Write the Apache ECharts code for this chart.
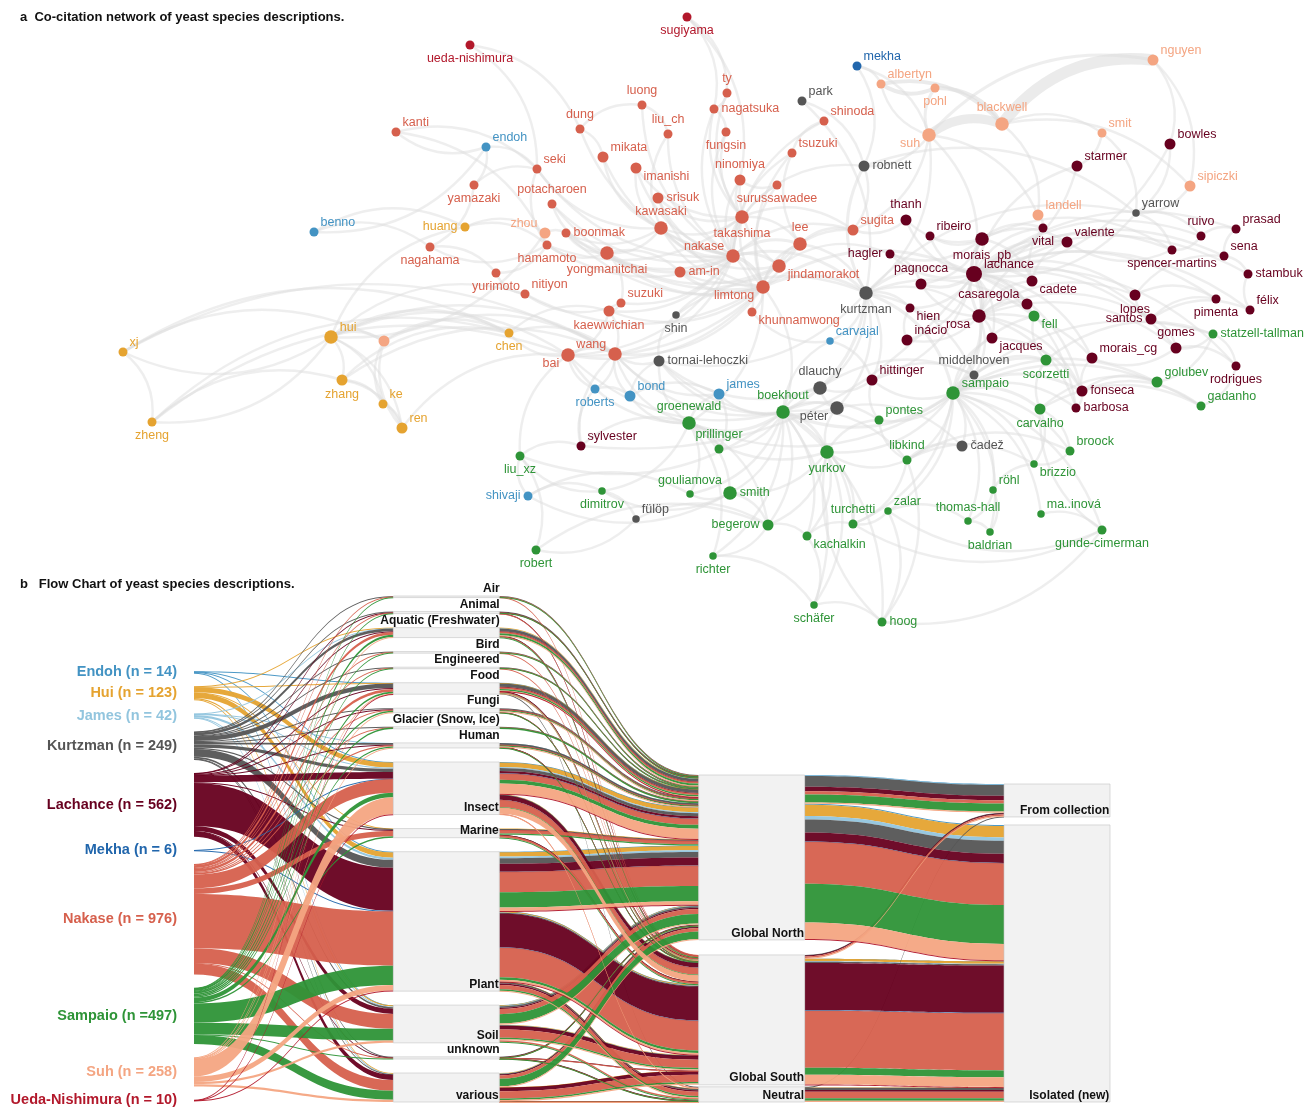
<!DOCTYPE html>
<html><head><meta charset="utf-8">
<script src="https://cdn.jsdelivr.net/npm/echarts@6/dist/echarts.min.js"></script>
<style>html,body{margin:0;padding:0;background:#fff}#c{width:1311px;height:1108px}</style>
</head><body><div id="c"></div>
<script>
const FONT = "'Liberation Sans', Arial, Helvetica, sans-serif";

// ================= NETWORK DATA =================
const groupColors = {N:'#d6604d', L:'#67001f', S:'#2e9437', H:'#e5a330', Su:'#f4a582', K:'#555555', E:'#4393c3', M:'#2166ac', U:'#b2182b'};
// [name, group, layoutX, layoutY, weight]
const netNodes = [
['ueda-nishimura','U',470,45,2],['sugiyama','U',687,17,2],['kanti','N',396,132,2],['endoh','E',486,147,2],
['benno','E',314,232,2],['luong','N',642,105,2],['dung','N',580,129,2],['ty','N',727,93,2],
['nagatsuka','N',714,109,2],['liu_ch','N',668,134,2],['fungsin','N',726,132,2],['mikata','N',603,157,3],
['seki','N',537,169,2],['imanishi','N',636,168,3],['ninomiya','N',740,180,3],['yamazaki','N',474,185,2],
['potacharoen','N',552,204,2],['srisuk','N',658,198,3],['surussawadee','N',777,185,2],['tsuzuki','N',792,153,2],
['shinoda','N',824,121,2],['park','K',802,101,2],['robnett','K',864,166,3],['mekha','M',857,66,2],
['albertyn','Su',881,84,2],['pohl','Su',935,88,2],['suh','Su',929,135,4],['blackwell','Su',1002,124,4],
['nguyen','Su',1153,60,3],['smit','Su',1102,133,2],['bowles','L',1170,144,3],['starmer','L',1077,166,3],
['sipiczki','Su',1190,186,3],['yarrow','K',1136,213,1],['landell','Su',1038,215,3],['vital','L',1043,228,2],
['valente','L',1067,242,3],['ruivo','L',1201,236,2],['prasad','L',1236,229,2],['spencer-martins','L',1172,250,2],
['sena','L',1224,256,2],['stambuk','L',1248,274,2],['thanh','L',906,220,3],['ribeiro','L',930,236,2],
['morais_pb','L',982,239,4],['hagler','L',890,254,2],['pagnocca','L',921,284,3],['lachance','L',974,274,5],
['cadete','L',1032,281,3],['sugita','N',853,230,3],['lee','N',800,244,4],['takashima','N',742,217,4],
['kawasaki','N',661,228,4],['nakase','N',733,256,4],['jindamorakot','N',779,266,4],['am-in','N',680,272,3],
['yongmanitchai','N',607,253,4],['boonmak','N',566,233,2],['hamamoto','N',547,245,2],['zhou','Su',545,233,3],
['huang','H',465,227,2],['nagahama','N',430,247,2],['yurimoto','N',496,273,2],['nitiyon','N',525,294,2],
['suzuki','N',621,303,2],['kaewwichian','N',609,311,3],['limtong','N',763,287,4],['khunnamwong','N',752,312,2],
['shin','K',676,315,1],['kurtzman','K',866,293,4],['hien','L',910,308,2],['casaregola','L',1027,304,3],
['fell','S',1034,316,3],['lopes','L',1135,295,3],['pimenta','L',1216,299,2],['félix','L',1250,310,2],
['santos','L',1151,319,3],['rosa','L',979,316,4],['inácio','L',907,340,3],['jacques','L',992,338,3],
['morais_cg','L',1092,358,3],['gomes','L',1176,348,3],['statzell-tallman','S',1213,334,2],['rodrigues','L',1236,366,2],
['carvajal','E',830,341,1],['middelhoven','K',974,375,2],['scorzetti','S',1046,360,3],['fonseca','L',1082,391,3],
['barbosa','L',1076,408,2],['golubev','S',1157,382,3],['gadanho','S',1201,406,2],['tornai-lehoczki','K',659,361,3],
['hittinger','L',872,380,3],['dlauchy','K',820,388,4],['sampaio','S',953,393,4],['péter','K',837,408,4],
['boekhout','S',783,412,4],['pontes','S',879,420,2],['carvalho','S',1040,409,3],['broock','S',1070,451,2],
['čadež','K',962,446,3],['libkind','S',907,460,2],['brizzio','S',1034,464,1],['yurkov','S',827,452,4],
['prillinger','S',719,449,2],['groenewald','S',689,423,4],['james','E',719,394,3],['bond','E',630,396,3],
['roberts','E',595,389,2],['bai','N',568,355,4],['wang','N',615,354,4],['chen','H',509,333,2],
['hui','H',331,337,4],['suh_b','Su',384,341,3],['xj','H',123,352,2],['zhang','H',342,380,3],
['ke','H',383,404,2],['ren','H',402,428,3],['zheng','H',152,422,2],['sylvester','L',581,446,2],
['liu_xz','S',520,456,2],['shivaji','E',528,496,2],['dimitrov','S',602,491,1],['fülöp','K',636,519,1],
['gouliamova','S',690,494,1],['smith','S',730,493,4],['robert','S',536,550,2],['begerow','S',768,525,3],
['kachalkin','S',807,536,2],['turchetti','S',853,524,2],['richter','S',713,556,1],['zalar','S',888,511,1],
['thomas-hall','S',968,521,1],['baldrian','S',990,532,1],['röhl','S',993,490,1],['ma..inová','S',1041,514,1],
['gunde-cimerman','S',1102,530,2],['schäfer','S',814,605,1],['hoog','S',882,622,2]
];
const hiddenLabels = ['suh_b'];
// label placement codes (style)
const labelPlace = {
'ueda-nishimura':'b','sugiyama':'b','kanti':'tr','endoh':'tr','benno':'tr','luong':'t','dung':'t','ty':'t','nagatsuka':'r',
'liu_ch':'t','fungsin':'b','mikata':'tr','seki':'tr','imanishi':'br','ninomiya':'t','yamazaki':'b','potacharoen':'t',
'srisuk':'r','surussawadee':'b','tsuzuki':'tr','shinoda':'tr','park':'tr','robnett':'r','mekha':'tr','albertyn':'tr',
'pohl':'b','suh':'bl','blackwell':'t','nguyen':'tr','smit':'tr','bowles':'tr','starmer':'tr','sipiczki':'tr','yarrow':'tr',
'landell':'tr','vital':'b','valente':'tr','ruivo':'t','prasad':'tr','spencer-martins':'b','sena':'tr','stambuk':'r',
'thanh':'t','ribeiro':'tr','morais_pb':'b','hagler':'l','pagnocca':'t','lachance':'tr','cadete':'br','sugita':'tr',
'lee':'t','takashima':'b','kawasaki':'t','nakase':'tl','jindamorakot':'br','am-in':'r','yongmanitchai':'b','boonmak':'r',
'hamamoto':'b','zhou':'tl','huang':'l','nagahama':'b','yurimoto':'b','nitiyon':'tr','suzuki':'tr','kaewwichian':'b',
'limtong':'bl','khunnamwong':'br','shin':'b','kurtzman':'b','hien':'br','casaregola':'tl','fell':'br','lopes':'b',
'pimenta':'b','félix':'tr','santos':'l','rosa':'bl','inácio':'tr','jacques':'br','morais_cg':'tr','gomes':'t',
'statzell-tallman':'r','rodrigues':'b','carvajal':'tr','middelhoven':'t','scorzetti':'b','fonseca':'r','barbosa':'r',
'golubev':'tr','gadanho':'tr','tornai-lehoczki':'r','hittinger':'tr','dlauchy':'t','sampaio':'tr','péter':'bl',
'boekhout':'t','pontes':'tr','carvalho':'b','broock':'tr','čadež':'r','libkind':'t','brizzio':'br','yurkov':'b',
'prillinger':'t','groenewald':'t','james':'tr','bond':'tr','roberts':'b','bai':'bl','wang':'tl','chen':'b','hui':'tr',
'xj':'tr','zhang':'b','ke':'tr','ren':'tr','zheng':'b','sylvester':'tr','liu_xz':'b','shivaji':'l','dimitrov':'b',
'fülöp':'tr','gouliamova':'t','smith':'r','robert':'b','begerow':'l','kachalkin':'br','turchetti':'t','richter':'b',
'zalar':'tr','thomas-hall':'t','baldrian':'b','röhl':'tr','ma..inová':'tr','gunde-cimerman':'b','schäfer':'b','hoog':'r'
};
// co-citation edges [a, b, strength]
const netEdges = [
['nakase','takashima',2],['nakase','kawasaki',2],['nakase','lee',2],['nakase','jindamorakot',2],['nakase','am-in',2],['nakase','limtong',3],
['nakase','yongmanitchai',2],['nakase','srisuk',1],['nakase','ninomiya',1],['nakase','imanishi',1],['nakase','mikata',1],['nakase','seki',1],
['nakase','boonmak',1],['nakase','hamamoto',1],['nakase','suzuki',1],['nakase','kaewwichian',1],['nakase','sugita',1],['nakase','surussawadee',1],
['nakase','tsuzuki',1],['nakase','fungsin',1],['nakase','nagatsuka',1],['nakase','liu_ch',1],['nakase','luong',1],['nakase','dung',1],
['nakase','potacharoen',1],['nakase','khunnamwong',1],['nakase','kurtzman',2],['nakase','wang',1],['nakase','bai',1],['nakase','shinoda',1],
['limtong','yongmanitchai',2],['limtong','jindamorakot',2],['limtong','am-in',2],['limtong','srisuk',1],['limtong','khunnamwong',1],['limtong','kaewwichian',1],
['limtong','boonmak',1],['limtong','lee',1],['limtong','kawasaki',1],['limtong','takashima',1],['limtong','potacharoen',1],['limtong','nitiyon',1],
['limtong','surussawadee',1],['limtong','lachance',2],['limtong','kurtzman',2],['limtong','groenewald',1],['limtong','boekhout',1],['limtong','wang',1],
['limtong','bai',1],['limtong','tsuzuki',1],
['jindamorakot','am-in',1],['jindamorakot','yongmanitchai',1],['jindamorakot','sugita',1],['jindamorakot','lee',1],['jindamorakot','ninomiya',1],
['jindamorakot','kawasaki',1],['jindamorakot','hagler',1],
['takashima','kawasaki',1],['takashima','ninomiya',1],['takashima','srisuk',1],['takashima','imanishi',1],['takashima','lee',1],['takashima','sugita',1],
['takashima','fungsin',1],['takashima','ty',1],['takashima','nagatsuka',1],['takashima','robnett',1],['takashima','hamamoto',1],
['kawasaki','mikata',1],['kawasaki','boonmak',1],['kawasaki','imanishi',1],['kawasaki','yongmanitchai',1],['kawasaki','seki',1],['kawasaki','liu_ch',1],
['lee','sugita',1],['lee','tsuzuki',1],['lee','kurtzman',1],['lee','bai',1],
['yongmanitchai','boonmak',1],['yongmanitchai','suzuki',1],['yongmanitchai','am-in',1],['yongmanitchai','hamamoto',1],['yongmanitchai','potacharoen',1],
['hamamoto','nagahama',1],['hamamoto','yurimoto',1],['hamamoto','seki',1],['nagahama','yurimoto',1],['yamazaki','nagahama',1],['yamazaki','seki',1],
['kanti','seki',1],['kanti','hamamoto',1],['dung','luong',1],['dung','mikata',1],['luong','liu_ch',1],['ty','nagatsuka',1],['nagatsuka','fungsin',1],
['sugiyama','ty',1],['sugiyama','nagatsuka',1],['sugiyama','ninomiya',1],['ueda-nishimura','dung',1],['ueda-nishimura','seki',1],
['suzuki','kaewwichian',1],['suzuki','nitiyon',1],['kaewwichian','wang',1],['kaewwichian','bai',1],['nitiyon','yurimoto',1],['bai','wang',2],
['wang','roberts',1],['bai','chen',1],['shin','limtong',1],['shin','kurtzman',1],['tsuzuki','shinoda',1],['surussawadee','ninomiya',1],
['endoh','kanti',1],['endoh','yamazaki',1],['endoh','seki',1],['endoh','benno',1],['benno','nagahama',1],['benno','huang',1],
['huang','zhou',1],['huang','hamamoto',1],['zhou','boonmak',1],['zhou','hui',1],
['hui','xj',1],['hui','zhang',1],['hui','ke',1],['hui','ren',1],['hui','chen',2],['hui','suh_b',2],['hui','zheng',1],['hui','huang',1],
['hui','wang',1],['hui','bai',1],['xj','zheng',1],['xj','suh_b',1],['xj','chen',1],['zheng','zhang',1],['zheng','chen',1],['zheng','bai',1],
['zhang','ke',1],['zhang','ren',1],['zhang','chen',1],['ke','ren',1],['ren','suh_b',1],['ke','suh_b',1],['suh_b','chen',1],['suh_b','wang',1],
['chen','wang',1],['chen','kaewwichian',1],['ren','bai',1],['zhang','wang',1],['hui','nitiyon',1],['xj','wang',1],
['suh','blackwell',7],['blackwell','nguyen',9],['suh','nguyen',2],['suh','pohl',2],['suh','albertyn',1],['pohl','albertyn',3],['pohl','blackwell',3],
['albertyn','blackwell',3],['blackwell','smit',1],['blackwell','landell',1],['smit','starmer',1],['nguyen','bowles',1],['nguyen','sipiczki',1],
['blackwell','sipiczki',1],['suh','robnett',1],['suh','landell',1],['suh','sugita',1],['suh','lachance',1],['suh','kurtzman',1],['mekha','albertyn',1],
['mekha','robnett',1],['mekha','suh',1],['park','robnett',1],['park','kurtzman',1],['landell','vital',1],['smit','yarrow',1],['starmer','lachance',1],
['bowles','lachance',1],['bowles','yarrow',1],['sipiczki','yarrow',1],
['kurtzman','robnett',2],['kurtzman','yarrow',1],['kurtzman','lachance',2],['kurtzman','sampaio',2],['kurtzman','boekhout',2],['kurtzman','middelhoven',1],
['kurtzman','dlauchy',1],['kurtzman','péter',1],['kurtzman','carvajal',1],['kurtzman','hittinger',1],['kurtzman','fell',1],['kurtzman','tornai-lehoczki',1],
['kurtzman','hien',1],['kurtzman','rosa',1],['robnett','yarrow',1],['robnett','sugita',1],['yarrow','lachance',1],['yarrow','spencer-martins',1],['yarrow','ruivo',1],
['lachance','rosa',3],['lachance','morais_pb',2],['lachance','pagnocca',2],['lachance','cadete',2],['lachance','casaregola',1],['lachance','hagler',1],
['lachance','thanh',1],['lachance','ribeiro',1],['lachance','vital',1],['lachance','valente',1],['lachance','ruivo',1],['lachance','prasad',1],
['lachance','spencer-martins',1],['lachance','sena',1],['lachance','stambuk',1],['lachance','lopes',1],['lachance','santos',1],['lachance','félix',1],
['lachance','pimenta',1],['lachance','gomes',1],['lachance','morais_cg',1],['lachance','jacques',1],['lachance','inácio',1],['lachance','hien',1],
['lachance','fonseca',1],['lachance','barbosa',1],['lachance','rodrigues',1],['lachance','fell',1],['lachance','sampaio',2],['lachance','sylvester',1],
['lachance','hittinger',1],['lachance','starmer',1],
['rosa','morais_pb',2],['rosa','jacques',1],['rosa','cadete',1],['rosa','pagnocca',1],['rosa','santos',1],['rosa','lopes',1],['rosa','valente',1],
['rosa','inácio',1],['rosa','fonseca',1],['rosa','morais_cg',1],['rosa','gomes',1],['rosa','barbosa',1],['rosa','casaregola',1],['rosa','middelhoven',1],
['rosa','sampaio',1],['rosa','hien',1],
['morais_pb','thanh',1],['morais_pb','ribeiro',1],['morais_pb','pagnocca',1],['morais_pb','vital',1],['morais_pb','valente',1],['morais_pb','cadete',1],
['morais_pb','hagler',1],['morais_pb','spencer-martins',1],
['santos','lopes',1],['santos','pimenta',1],['santos','félix',1],['santos','gomes',1],['lopes','pimenta',1],['lopes','sena',1],['gomes','rodrigues',1],
['gomes','morais_cg',1],['sena','prasad',1],['sena','stambuk',1],['ruivo','prasad',1],['ruivo','spencer-martins',1],['félix','stambuk',1],
['spencer-martins','valente',1],['cadete','valente',1],['cadete','vital',1],['thanh','sugita',1],['hagler','pagnocca',1],['jacques','fonseca',1],
['fonseca','barbosa',1],['fonseca','golubev',1],['fonseca','gadanho',1],['fonseca','morais_cg',1],['statzell-tallman','gomes',1],
['statzell-tallman','golubev',1],['statzell-tallman','rodrigues',1],['rodrigues','gadanho',1],['inácio','hien',1],
['sampaio','fonseca',2],['sampaio','golubev',1],['sampaio','gadanho',1],['sampaio','carvalho',2],['sampaio','scorzetti',1],['sampaio','fell',1],
['sampaio','boekhout',2],['sampaio','libkind',1],['sampaio','pontes',1],['sampaio','brizzio',1],['sampaio','broock',1],['sampaio','čadež',1],
['sampaio','yurkov',1],['sampaio','turchetti',1],['sampaio','zalar',1],['sampaio','gunde-cimerman',1],['sampaio','baldrian',1],['sampaio','röhl',1],
['sampaio','thomas-hall',1],['sampaio','ma..inová',1],['sampaio','statzell-tallman',1],['sampaio','groenewald',1],['sampaio','middelhoven',1],
['sampaio','jacques',1],['sampaio','hittinger',1],['sampaio','barbosa',1],
['carvalho','scorzetti',1],['carvalho','golubev',1],['carvalho','broock',1],['carvalho','brizzio',1],['carvalho','gadanho',1],['scorzetti','fell',1],
['scorzetti','statzell-tallman',1],['libkind','brizzio',1],['libkind','broock',1],['libkind','pontes',1],['libkind','čadež',1],['libkind','turchetti',1],
['libkind','yurkov',1],['libkind','hoog',1],['röhl','baldrian',1],['röhl','thomas-hall',1],['röhl','brizzio',1],['thomas-hall','baldrian',1],
['ma..inová','gunde-cimerman',1],['gunde-cimerman','zalar',1],['gunde-cimerman','turchetti',1],['gunde-cimerman','hoog',1],['gunde-cimerman','carvalho',1],
['zalar','turchetti',1],['zalar','hoog',1],['zalar','thomas-hall',1],
['boekhout','groenewald',2],['boekhout','yurkov',2],['boekhout','péter',1],['boekhout','dlauchy',1],['boekhout','begerow',1],['boekhout','kachalkin',1],
['boekhout','smith',1],['boekhout','prillinger',1],['boekhout','james',1],['boekhout','gouliamova',1],['boekhout','richter',1],['boekhout','hoog',1],
['boekhout','schäfer',1],['boekhout','turchetti',1],['boekhout','tornai-lehoczki',1],['boekhout','bai',1],['boekhout','wang',1],['boekhout','pontes',1],
['boekhout','carvajal',1],['boekhout','liu_xz',1],['boekhout','libkind',1],
['yurkov','kachalkin',1],['yurkov','schäfer',1],['yurkov','begerow',1],['yurkov','turchetti',1],['yurkov','smith',1],['yurkov','groenewald',1],
['yurkov','péter',1],['yurkov','pontes',1],
['groenewald','smith',1],['groenewald','prillinger',1],['groenewald','james',1],['groenewald','bond',1],['groenewald','gouliamova',1],
['groenewald','begerow',1],['groenewald','richter',1],['groenewald','dimitrov',1],['groenewald','wang',1],['groenewald','bai',1],['groenewald','tornai-lehoczki',1],
['péter','dlauchy',1],['péter','tornai-lehoczki',1],['péter','čadež',1],['dlauchy','tornai-lehoczki',1],['dlauchy','middelhoven',1],
['smith','gouliamova',1],['smith','shivaji',1],['smith','dimitrov',1],['smith','begerow',1],['shivaji','dimitrov',1],['shivaji','gouliamova',1],
['shivaji','liu_xz',1],['dimitrov','fülöp',1],['dimitrov','liu_xz',1],['fülöp','robert',1],['fülöp','begerow',1],['liu_xz','robert',1],
['robert','begerow',1],['liu_xz','bai',1],['liu_xz','sylvester',1],['sylvester','roberts',1],['sylvester','wang',1],['sylvester','groenewald',1],
['roberts','bond',1],['roberts','bai',1],['bond','wang',1],['bond','james',1],['bond','tornai-lehoczki',1],['james','prillinger',1],['james','wang',1],
['begerow','richter',1],['begerow','kachalkin',1],['kachalkin','turchetti',1],['kachalkin','schäfer',1],['schäfer','hoog',1],['richter','schäfer',1],
['hoog','yurkov',1],['carvajal','hittinger',1],['carvajal','khunnamwong',1],['hittinger','middelhoven',1],['hittinger','dlauchy',1],
['tornai-lehoczki','wang',1],['tornai-lehoczki','shin',1],['middelhoven','scorzetti',1],['broock','brizzio',1],['pontes','hittinger',1]
];

// ================= SANKEY DATA =================
const authorLabels = ['Endoh (n = 14)','Hui (n = 123)','James (n = 42)','Kurtzman (n = 249)','Lachance (n = 562)','Mekha (n = 6)','Nakase (n = 976)','Sampaio (n =497)','Suh (n = 258)','Ueda-Nishimura (n = 10)'];
const authorColors = ['#4393c3','#e5a330','#92c5de','#555555','#67001f','#2166ac','#d6604d','#2e9437','#f4a582','#b2182b'];
const sources = ['Air','Animal','Aquatic (Freshwater)','Bird','Engineered','Food','Fungi','Glacier (Snow, Ice)','Human','Insect','Marine','Plant','Soil','unknown','various'];
const regions = ['Global North','Global South','Neutral'];
const isolation = ['From collection','Isolated (new)'];
// per author: [source, Global North, Global South, Neutral]
const srcEndoh = [['Food',2,0,0],['Insect',4,0,0],['Plant',4,2,0],['Soil',2,0,0]];
const srcHui = [['Aquatic (Freshwater)',5,0,0],['Food',4,0,0],['Insect',40,5,0],['Marine',3,0,0],['Plant',38,8,2],['Soil',5,5,0],['various',5,2,1]];
const srcJames = [['Aquatic (Freshwater)',3,0,0],['Human',2,0,0],['Insect',9,1,0],['Plant',15,3,0],['Soil',4,2,0],['various',3,0,0]];
const srcKurtzman = [['Air',4,0,0],['Animal',6,0,0],['Aquatic (Freshwater)',24,1,0],['Bird',4,0,0],['Engineered',5,0,0],['Food',30,2,8],['Fungi',10,0,0],['Glacier (Snow, Ice)',5,0,0],['Human',14,1,0],['Insect',27,3,0],['Marine',9,1,0],['Plant',50,6,14],['Soil',14,1,0],['unknown',3,0,2],['various',5,0,0]];
const srcLachance = [['Animal',1,2,0],['Aquatic (Freshwater)',2,3,0],['Food',3,5,0],['Fungi',1,2,0],['Human',1,2,0],['Insect',20,40,0],['Marine',2,4,0],['Plant',70,298,12],['Soil',10,35,0],['unknown',2,1,1],['various',8,33,4]];
const srcMekha = [['Insect',1,1,0],['Plant',1,3,0]];
const srcNakase = [['Air',4,2,0],['Animal',3,2,0],['Aquatic (Freshwater)',15,10,0],['Bird',3,2,0],['Engineered',3,2,0],['Food',15,10,0],['Fungi',6,4,0],['Glacier (Snow, Ice)',2,0,0],['Human',7,5,0],['Insect',55,63,2],['Marine',30,20,0],['Plant',180,262,38],['Soil',45,72,13],['unknown',2,1,3],['various',30,65,0]];
const srcSampaio = [['Air',4,0,0],['Animal',4,0,0],['Aquatic (Freshwater)',18,2,0],['Bird',5,0,0],['Engineered',4,0,0],['Food',14,1,0],['Fungi',11,1,0],['Glacier (Snow, Ice)',12,0,0],['Human',9,1,0],['Insect',35,5,0],['Marine',10,2,0],['Plant',135,22,13],['Soil',83,13,9],['unknown',2,0,2],['various',67,13,0]];
const srcSuh = [['Aquatic (Freshwater)',5,0,0],['Food',4,1,0],['Fungi',5,0,0],['Human',3,0,0],['Insect',90,55,5],['Plant',30,16,4],['Soil',10,10,0],['various',8,11,1]];
const srcUeda = [['Food',2,0,0],['Insect',3,0,0],['Plant',3,2,0]];
const srcRegion = [srcEndoh,srcHui,srcJames,srcKurtzman,srcLachance,srcMekha,srcNakase,srcSampaio,srcSuh,srcUeda];
// per author: [region, From collection, Isolated (new)]
const isoEndoh = [['Global North',2,10],['Global South',0,2]];
const isoHui = [['Global North',0,100],['Global South',0,20],['Neutral',0,3]];
const isoJames = [['Global North',6,30],['Global South',0,6]];
const isoKurtzman = [['Global North',95,115],['Global South',5,10],['Neutral',5,19]];
const isoLachance = [['Global North',40,80],['Global South',8,417],['Neutral',0,17]];
const isoMekha = [['Global North',0,2],['Global South',0,4]];
const isoNakase = [['Global North',30,370],['Global South',15,505],['Neutral',0,56]];
const isoSampaio = [['Global North',70,343],['Global South',0,60],['Neutral',0,24]];
const isoSuh = [['Global North',10,145],['Global South',5,88],['Neutral',0,10]];
const isoUeda = [['Global North',0,8],['Global South',0,2]];
const regionIso = [isoEndoh,isoHui,isoJames,isoKurtzman,isoLachance,isoMekha,isoNakase,isoSampaio,isoSuh,isoUeda];

// ================= LAYOUT / STYLE CONFIG =================
const SK = {left: 88, top: 596, right: 201, bottom: 6, nodeWidth: 106, nodeGap: 14};
const skH = 1108 - SK.top - SK.bottom;
const colPlace = { // vertical placement of strata columns (style)
  c1: {gaps: 13.3, bottom: 1101},
  c3: {gaps: [15, 2], bottom: 1102},
  c4: {gaps: [8], bottom: 1102}
};
const insideLabels = ['Insect','Marine','Plant','Soil','various','Global North','Global South','Neutral','From collection','Isolated (new)'];
const sizeByWeight = [0, 7.5, 9, 11, 13.5, 16];

// ================= BUILD NETWORK =================
function labelOpt(code) {
  const m = {t:['top',[0,0]], b:['bottom',[0,0]], l:['left',[0,0]], r:['right',[0,0]],
    tr:['right',[-1,-9]], br:['right',[-1,9]], tl:['left',[1,-9]], bl:['left',[1,9]]};
  const v = m[code] || m.r;
  return {position: v[0], offset: v[1]};
}
const gData = netNodes.map(([name, g, x, y, w]) => {
  const lp = labelOpt(labelPlace[name]);
  return {
    name, value: [x, y], symbolSize: sizeByWeight[w],
    itemStyle: {color: groupColors[g]},
    label: {show: hiddenLabels.indexOf(name) < 0, position: lp.position, offset: lp.offset, color: groupColors[g]}
  };
});
const nameSet = new Set(netNodes.map(n => n[0]));
const gLinks = netEdges.filter(e => nameSet.has(e[0]) && nameSet.has(e[1])).map(([a, b, s]) => ({
  source: a, target: b,
  lineStyle: {width: s > 2 ? s * 1.3 : 1.8 + s * 0.6, opacity: s > 2 ? 0.6 : 0.5}
}));

// ================= BUILD SANKEY =================
const sNodes = [], sLinks = [];
const authorTot = srcRegion.map(rows => rows.reduce((s, r) => s + r[1] + r[2] + r[3], 0));
const sourceTot = sources.map(src => srcRegion.reduce((s, rows) => s + rows.filter(r => r[0] === src).reduce((t, r) => t + r[1] + r[2] + r[3], 0), 0));
const regionTot = regions.map((rg, ri) => srcRegion.reduce((s, rows) => s + rows.reduce((t, r) => t + r[1 + ri], 0), 0));
const isoTot = isolation.map((iso, ii) => regionIso.reduce((s, rows) => s + rows.reduce((t, r) => t + r[1 + ii], 0), 0));
// same scale the library uses: min over columns of (H - (n-1)*gap)/sum
const cols = [authorTot, sourceTot, regionTot, isoTot];
const ky = Math.min(...cols.map(c => (skH - (c.length - 1) * SK.nodeGap) / c.reduce((a, b) => a + b, 0)));
function placeCol(values, gaps, bottomAbs) {
  const gs = values.slice(1).map((_, i) => Array.isArray(gaps) ? gaps[i] : gaps);
  const total = values.reduce((s, v) => s + v * ky, 0) + gs.reduce((s, g) => s + g, 0);
  let y = bottomAbs - total;
  return values.map((v, i) => { const ly = (y - SK.top) / skH; y += v * ky + (gs[i] || 0); return ly; });
}
const c1Y = placeCol(authorTot, colPlace.c1.gaps, colPlace.c1.bottom);
const c3Y = placeCol(regionTot, colPlace.c3.gaps, colPlace.c3.bottom);
const c4Y = placeCol(isoTot, colPlace.c4.gaps, colPlace.c4.bottom);

const strataStyle = {color: '#f2f2f2', borderColor: '#c4c4c4', borderWidth: 0.6};
function strataLabel(name) {
  if (insideLabels.indexOf(name) >= 0) return {position: 'insideBottomRight', distance: 1};
  return {position: ['100%', 0], align: 'right', verticalAlign: 'bottom', offset: [0, -1]};
}
authorLabels.forEach((a, i) => sNodes.push({
  name: a, localY: c1Y[i],
  itemStyle: {color: 'rgba(0,0,0,0)', borderWidth: 0},
  label: {position: 'insideRight', distance: 17, color: authorColors[i], fontSize: 14.5, fontWeight: 'bold'}
}));
sources.forEach(s => sNodes.push({name: s, itemStyle: strataStyle, label: strataLabel(s)}));
regions.forEach((r, i) => sNodes.push({name: r, localY: c3Y[i], itemStyle: strataStyle, label: strataLabel(r)}));
isolation.forEach((r, i) => sNodes.push({name: r, localY: c4Y[i], itemStyle: strataStyle, label: strataLabel(r)}));

srcRegion.forEach((rows, ai) => rows.forEach(r => {
  sLinks.push({source: authorLabels[ai], target: r[0], value: r[1] + r[2] + r[3], lineStyle: {color: authorColors[ai]}});
}));
srcRegion.forEach((rows, ai) => rows.forEach(r => {
  regions.forEach((rg, ri) => { if (r[1 + ri] > 0) sLinks.push({source: r[0], target: rg, value: r[1 + ri], lineStyle: {color: authorColors[ai]}}); });
}));
regionIso.forEach((rows, ai) => rows.forEach(r => {
  isolation.forEach((iso, ii) => { if (r[1 + ii] > 0) sLinks.push({source: r[0], target: iso, value: r[1 + ii], lineStyle: {color: authorColors[ai]}}); });
}));

// ================= CHART =================
const chart = echarts.init(document.getElementById('c'), null, {renderer: 'canvas'});
chart.setOption({
  backgroundColor: '#ffffff',
  animation: false,
  textStyle: {fontFamily: FONT},
  graphic: [
    {type: 'text', left: 20, top: 11, style: {text: 'a  Co-citation network of yeast species descriptions.', font: 'bold 13px ' + FONT, fill: '#111'}},
    {type: 'text', left: 20, top: 578, style: {text: 'b   Flow Chart of yeast species descriptions.', font: 'bold 13px ' + FONT, fill: '#111'}}
  ],
  grid: {left: 0, right: 0, top: 0, bottom: 0},
  xAxis: {type: 'value', min: 0, max: 1311, show: false},
  yAxis: {type: 'value', min: 0, max: 1108, inverse: true, show: false},
  series: [
    {
      type: 'graph', coordinateSystem: 'cartesian2d', z: 1,
      symbol: 'circle',
      data: gData, links: gLinks,
      lineStyle: {color: '#dedede', curveness: 0.28},
      label: {show: true, fontSize: 12.5, fontFamily: FONT, distance: 3},
      emphasis: {disabled: true}, silent: true
    },
    {
      type: 'sankey', z: 3,
      left: SK.left, top: SK.top, right: SK.right, bottom: SK.bottom,
      nodeWidth: SK.nodeWidth, nodeGap: SK.nodeGap, layoutIterations: 0,
      draggable: false, data: sNodes, links: sLinks,
      label: {show: true, fontFamily: FONT, fontSize: 12, fontWeight: 'bold', color: '#111'},
      lineStyle: {opacity: 0.95, curveness: 0.5},
      emphasis: {disabled: true}, silent: true
    }
  ]
});
</script></body></html>
